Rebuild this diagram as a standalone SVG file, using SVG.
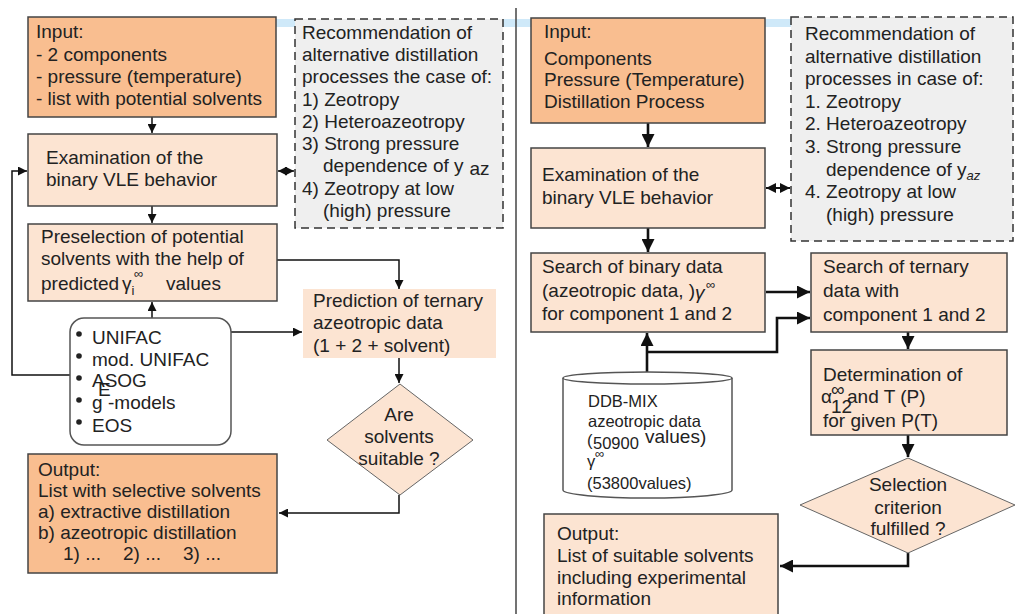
<svg xmlns="http://www.w3.org/2000/svg" width="1016" height="614" viewBox="0 0 1016 614">
<style>
text{font-family:"Liberation Sans",Arial,sans-serif;font-size:19px;fill:#222}
.s{font-size:16.5px}
.c{text-anchor:middle}
.sup{font-size:13px}
.dark{fill:#F9BE90;stroke:#444;stroke-width:1.5}
.light{fill:#FCE4D2;stroke:#444;stroke-width:1.5}
.dash{fill:#EFEFEF;stroke:#333;stroke-width:1.5;stroke-dasharray:8 5}
.dia{fill:#FCE4D2;stroke:#666;stroke-width:1}
.cl{fill:none;stroke:#111;stroke-width:1.5}
.cr{fill:none;stroke:#111;stroke-width:2.6}
</style>
<defs>
<marker id="a" viewBox="0 0 10 10" refX="10" refY="5" markerWidth="10" markerHeight="9" markerUnits="userSpaceOnUse" orient="auto-start-reverse"><path d="M0,0 L10,5 L0,10 z" fill="#111"/></marker>
<marker id="b" viewBox="0 0 10 10" refX="10" refY="5" markerWidth="14" markerHeight="13" markerUnits="userSpaceOnUse" orient="auto-start-reverse"><path d="M0,0 L10,5 L0,10 z" fill="#111"/></marker>
<marker id="d" viewBox="0 0 10 10" refX="10" refY="5" markerWidth="11" markerHeight="10" markerUnits="userSpaceOnUse" orient="auto-start-reverse"><path d="M0,0 L10,5 L0,10 z" fill="#111"/></marker>
</defs>
<rect x="276" y="19" width="545" height="8" fill="#CFE9F9"/>
<line x1="516" y1="8" x2="516" y2="614" stroke="#444" stroke-width="1.5"/>

<g id="connectors">
<path class="cl" d="M152,117 V133" marker-end="url(#a)"/>
<path class="cl" d="M152,206 V223" marker-end="url(#a)"/>
<path class="cl" d="M278,171 H294" marker-start="url(#a)" marker-end="url(#a)"/>
<path class="cl" d="M152,318 V302" marker-end="url(#a)"/>
<path class="cl" d="M231,332 H302" marker-end="url(#a)"/>
<path class="cl" d="M70,375 H12 V171 H27" marker-end="url(#a)"/>
<path class="cl" d="M277,260 H399 V289" marker-end="url(#a)"/>
<path class="cl" d="M399,358 V383" marker-end="url(#a)"/>
<path class="cl" d="M399,495 V513 H279" marker-end="url(#a)"/>
<path class="cr" d="M648,123 V147" marker-end="url(#b)"/>
<path class="cr" d="M648,228 V252" marker-end="url(#b)"/>
<path fill="none" stroke="#111" stroke-width="2" d="M766,188 H790" marker-start="url(#d)" marker-end="url(#d)"/>
<path class="cr" d="M766,292 H810" marker-end="url(#b)"/>
<path class="cr" d="M647,372 V333" marker-end="url(#b)"/>
<path class="cr" d="M647,352 H777 V318 H810" marker-end="url(#b)"/>
<path class="cr" d="M908,332 V349" marker-end="url(#b)"/>
<path class="cr" d="M908,435 V457" marker-end="url(#b)"/>
<path class="cr" d="M908,553 V566 H780" marker-end="url(#b)"/>
</g>

<g id="input-left">
<rect class="dark" x="28" y="17" width="248" height="100"/>
<text x="36" y="38">Input:</text>
<text x="36" y="61">- 2 components</text>
<text x="36" y="83">- pressure (temperature)</text>
<text x="36" y="105">- list with potential solvents</text>
</g>

<g id="exam-left">
<rect class="light" x="28" y="134" width="249" height="72"/>
<text x="46" y="164">Examination of the</text>
<text x="46" y="186">binary VLE behavior</text>
</g>

<g id="recommend-left">
<rect class="dash" x="295" y="19" width="208" height="209"/>
<text x="302" y="39">Recommendation of</text>
<text x="302" y="61">alternative distillation</text>
<text x="302" y="83">processes the case of:</text>
<text x="302" y="106">1) Zeotropy</text>
<text x="302" y="128">2) Heteroazeotropy</text>
<text x="302" y="150">3) Strong pressure</text>
<text x="323" y="172">dependence of y<tspan dx="6" dy="3">az</tspan></text>
<text x="302" y="195">4) Zeotropy at low</text>
<text x="323" y="217">(high) pressure</text>
</g>

<g id="preselection">
<rect class="light" x="28" y="224" width="249" height="77"/>
<text x="41" y="243">Preselection of potential</text>
<text x="41" y="265">solvents with the help of</text>
<text x="41" y="290">predicted</text>
<text x="122" y="290">γ<tspan class="sup" dy="5">i</tspan></text>
<text x="134" y="278" class="sup">∞</text>
<text x="166" y="290">values</text>
</g>

<g id="models">
<rect x="70" y="318" width="161" height="127" rx="14" fill="#fff" stroke="#555" stroke-width="1.5"/>
<circle cx="79" cy="334" r="2.8" fill="#222"/>
<circle cx="79" cy="356" r="2.8" fill="#222"/>
<circle cx="79" cy="378" r="2.8" fill="#222"/>
<circle cx="79" cy="400" r="2.8" fill="#222"/>
<circle cx="79" cy="422" r="2.8" fill="#222"/>
<text x="92" y="344">UNIFAC</text>
<text x="92" y="366">mod. UNIFAC</text>
<text x="92" y="387">ASOG</text>
<text x="92" y="409">g</text>
<text x="98" y="396" font-size="17">E</text>
<text x="108" y="409">-models</text>
<text x="92" y="432">EOS</text>
</g>

<g id="prediction">
<rect x="303" y="289" width="193" height="69" fill="#FCE4D2"/>
<text x="313" y="307">Prediction of ternary</text>
<text x="313" y="329">azeotropic data</text>
<text x="313" y="352">(1 + 2 + solvent)</text>
</g>

<g id="decision-left">
<polygon class="dia" points="400,384 473,440 400,495 327,440"/>
<text class="c" x="399" y="421">Are</text>
<text class="c" x="399" y="443">solvents</text>
<text class="c" x="399" y="465">suitable ?</text>
</g>

<g id="output-left">
<rect class="dark" x="28" y="454" width="249" height="119"/>
<text x="38" y="476">Output:</text>
<text x="38" y="497">List with selective solvents</text>
<text x="38" y="518">a) extractive distillation</text>
<text x="38" y="539">b) azeotropic distillation</text>
<text x="63" y="560">1) ...</text>
<text x="123" y="560">2) ...</text>
<text x="183" y="560">3) ...</text>
</g>

<g id="input-right">
<rect class="dark" x="531" y="18" width="234" height="105"/>
<text x="544" y="38">Input:</text>
<text x="544" y="65">Components</text>
<text x="544" y="86">Pressure (Temperature)</text>
<text x="544" y="108">Distillation Process</text>
</g>

<g id="exam-right">
<rect class="light" x="531" y="148" width="234" height="80"/>
<text x="542" y="181">Examination of the</text>
<text x="542" y="204">binary VLE behavior</text>
</g>

<g id="recommend-right">
<rect class="dash" x="791" y="17" width="222" height="224"/>
<text x="805" y="40">Recommendation of</text>
<text x="805" y="63">alternative distillation</text>
<text x="805" y="85">processes in case of:</text>
<text x="805" y="108">1. Zeotropy</text>
<text x="805" y="130">2. Heteroazeotropy</text>
<text x="805" y="153">3. Strong pressure</text>
<text x="826" y="176">dependence of y<tspan class="sup" dy="4" font-style="italic">az</tspan></text>
<text x="805" y="198">4. Zeotropy at low</text>
<text x="826" y="221">(high) pressure</text>
</g>

<g id="search-binary">
<rect class="light" x="531" y="253" width="234" height="79"/>
<text x="542" y="273">Search of binary data</text>
<text x="542" y="297">(azeotropic data, )</text>
<text x="695" y="299" font-style="italic">γ</text>
<text x="706" y="289" class="sup">∞</text>
<text x="542" y="320">for component 1 and 2</text>
</g>

<g id="database">
<path d="M563,378 A84.5,6 0 0 1 732,378 V490 A84.5,8 0 0 1 563,490 Z" fill="#fff" stroke="#555" stroke-width="1.5"/>
<path d="M563,378 A84.5,6 0 0 0 732,378" fill="none" stroke="#555" stroke-width="1.5"/>
<text class="s" x="588" y="407">DDB-MIX</text>
<text class="s" x="588" y="427">azeotropic data</text>
<text class="s" x="587" y="446">(</text>
<text class="s" x="593" y="449">50900</text>
<text x="645" y="443" font-size="15">values)</text>
<text class="s" x="587" y="467">γ</text>
<text class="sup" x="595" y="458">∞</text>
<text class="s" x="587" y="489">(53800values)</text>
</g>

<g id="search-ternary">
<rect class="light" x="811" y="253" width="196" height="79"/>
<text x="823" y="273">Search of ternary</text>
<text x="823" y="297">data with</text>
<text x="823" y="321">component 1 and 2</text>
</g>

<g id="determination">
<rect class="light" x="811" y="350" width="196" height="85"/>
<text x="823" y="381">Determination of</text>
<text x="821" y="403" font-size="15">α</text>
<text x="831" y="396" font-size="12">∞</text>
<text x="831" y="413" font-size="12">12</text>
<text x="847" y="403">and T (P)</text>
<text x="823" y="427">for given P(T)</text>
</g>

<g id="decision-right">
<polygon class="dia" points="908,458 1015,505 908,553 800,505"/>
<text class="c" x="908" y="491">Selection</text>
<text class="c" x="908" y="514">criterion</text>
<text class="c" x="908" y="535">fulfilled ?</text>
</g>

<g id="output-right">
<rect class="light" x="544" y="514" width="234" height="110"/>
<text x="557" y="540">Output:</text>
<text x="557" y="562">List of suitable solvents</text>
<text x="557" y="584">including experimental</text>
<text x="557" y="605">information</text>
</g>
</svg>
